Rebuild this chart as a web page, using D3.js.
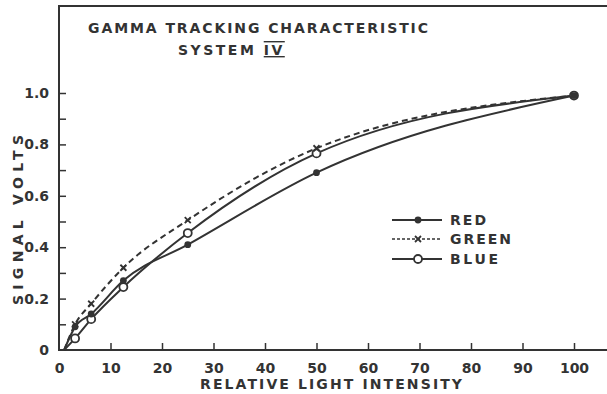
<!DOCTYPE html>
<head>
    <style>
        body { margin: 0; background: #fff; }
        text { font-family: "DejaVu Sans", sans-serif; font-weight: bold; fill: #333; }
    </style>
</head>
<body>
    <script src="https://d3js.org/d3.v7.min.js"></script>
    <script>
        const width = 607;
        const height = 394;

        // relative light intensity of the measured points
        const intensity = [1, 3.125, 6.25, 12.5, 25, 50, 100];
        const red = [0, 0.09, 0.14, 0.27, 0.41, 0.69, 0.99];
        const green = [0, 0.10, 0.18, 0.32, 0.505, 0.785, 0.99];
        const blue = [0, 0.045, 0.12, 0.245, 0.455, 0.765, 0.99];

        const xTicks = [0, 10, 20, 30, 40, 50, 60, 70, 80, 90, 100];
        const yTicks = [0, 0.1, 0.2, 0.3, 0.4, 0.5, 0.6, 0.7, 0.8, 0.9, 1.0];
        const yLabels = [0, 0.2, 0.4, 0.6, 0.8, 1.0];

        const series = [
            { name: "RED", values: red, dash: null, marker: "dot", w: 36 },
            { name: "GREEN", values: green, dash: "6,4", marker: "x", w: 61 },
            { name: "BLUE", values: blue, dash: null, marker: "ring", w: 48 }
        ];

        const ink = "#333";
        const x = d3.scaleLinear().domain([0, 100]).range([59, 574]);
        const y = d3.scaleLinear().domain([0, 1]).range([350, 93]);

        const svg = d3.select("body").append("svg")
            .attr("width", width).attr("height", height);

        // frame (open on the right)
        svg.append("path")
            .attr("d", `M${width},6H59V350H${width}`)
            .attr("fill", "none").attr("stroke", ink).attr("stroke-width", 2);

        // x axis ticks, inside
        const xa = svg.append("g").attr("transform", "translate(0,350)")
            .call(d3.axisBottom(x).tickValues(xTicks).tickSize(-7).tickPadding(10).tickFormat(d => d));
        xa.select(".domain").remove();
        xa.selectAll("line").attr("stroke", ink).attr("stroke-width", 1.5);
        xa.selectAll("text").attr("font-size", 14).attr("dy", "0.9em").attr("fill", ink);
        xa.selectAll(".tick").filter(d => d == 0).select("line").remove();

        const ya = svg.append("g").attr("transform", "translate(59,0)")
            .call(d3.axisLeft(y).tickValues(yTicks).tickSize(-7).tickPadding(10)
                .tickFormat(d => yLabels.some(v => Math.abs(v - d) < 1e-9) ? (d == 0 ? "0" : d.toFixed(1)) : ""));
        ya.select(".domain").remove();
        ya.selectAll("line").attr("stroke", ink).attr("stroke-width", 1.5);
        ya.selectAll("text").attr("font-size", 14).attr("fill", ink);
        ya.selectAll(".tick").filter(d => d == 0).select("line").remove();

        // titles
        svg.append("text").attr("x", 88).attr("y", 33)
            .attr("font-size", 14).attr("textLength", 340).attr("lengthAdjust", "spacing")
            .text("GAMMA TRACKING CHARACTERISTIC");
        const sub = svg.append("text").attr("x", 178).attr("y", 55)
            .attr("font-size", 14).attr("letter-spacing", 2.5);
        sub.append("tspan").text("SYSTEM ");
        sub.append("tspan").attr("text-decoration", "underline overline").text("IV");

        svg.append("text").attr("transform", "translate(23,220) rotate(-90)").attr("x", -85)
            .attr("font-size", 14).attr("textLength", 170).attr("lengthAdjust", "spacing").text("SIGNAL VOLTS");
        svg.append("text").attr("x", 200).attr("y", 389)
            .attr("font-size", 14).attr("textLength", 262).attr("lengthAdjust", "spacing").text("RELATIVE LIGHT INTENSITY");

        const line = d3.line()
            .x((d, i) => x(intensity[i]))
            .y(d => y(d))
            .curve(d3.curveMonotoneX);

        function drawMarker(g, kind, cx, cy) {
            if (kind == "dot") {
                g.append("circle").attr("cx", cx).attr("cy", cy).attr("r", 3.4).attr("fill", ink);
            } else if (kind == "ring") {
                g.append("circle").attr("cx", cx).attr("cy", cy).attr("r", 4).attr("fill", "#fff")
                    .attr("stroke", ink).attr("stroke-width", 1.8);
            } else {
                g.append("path").attr("d", `M${cx - 3},${cy - 3}L${cx + 3},${cy + 3}M${cx + 3},${cy - 3}L${cx - 3},${cy + 3}`)
                    .attr("stroke", ink).attr("stroke-width", 1.8);
            }
        }

        series.forEach(s => {
            svg.append("path").datum(s.values)
                .attr("d", line)
                .attr("fill", "none").attr("stroke", ink).attr("stroke-width", 2)
                .attr("stroke-dasharray", s.dash);
        });
        // markers: blue first so the red dots sit on top
        [series[2], series[1], series[0]].forEach(s => {
            const g = svg.append("g");
            s.values.forEach((v, i) => {
                if (i == 0) return;
                drawMarker(g, s.marker, x(intensity[i]), y(v));
            });
        });

        // legend
        const legY = [220, 239, 259];
        series.forEach((s, i) => {
            const g = svg.append("g");
            g.append("line").attr("x1", 392).attr("x2", 442).attr("y1", legY[i]).attr("y2", legY[i])
                .attr("stroke", ink).attr("stroke-width", s.dash ? 1.5 : 2).attr("stroke-dasharray", s.dash ? "3,2" : null);
            drawMarker(g, s.marker, 418, legY[i]);
            g.append("text").attr("x", 450).attr("y", legY[i]).attr("dy", "0.36em")
                .attr("font-size", 14).attr("textLength", s.w).attr("lengthAdjust", "spacing").text(s.name);
        });
    </script>
</body>
</html>
